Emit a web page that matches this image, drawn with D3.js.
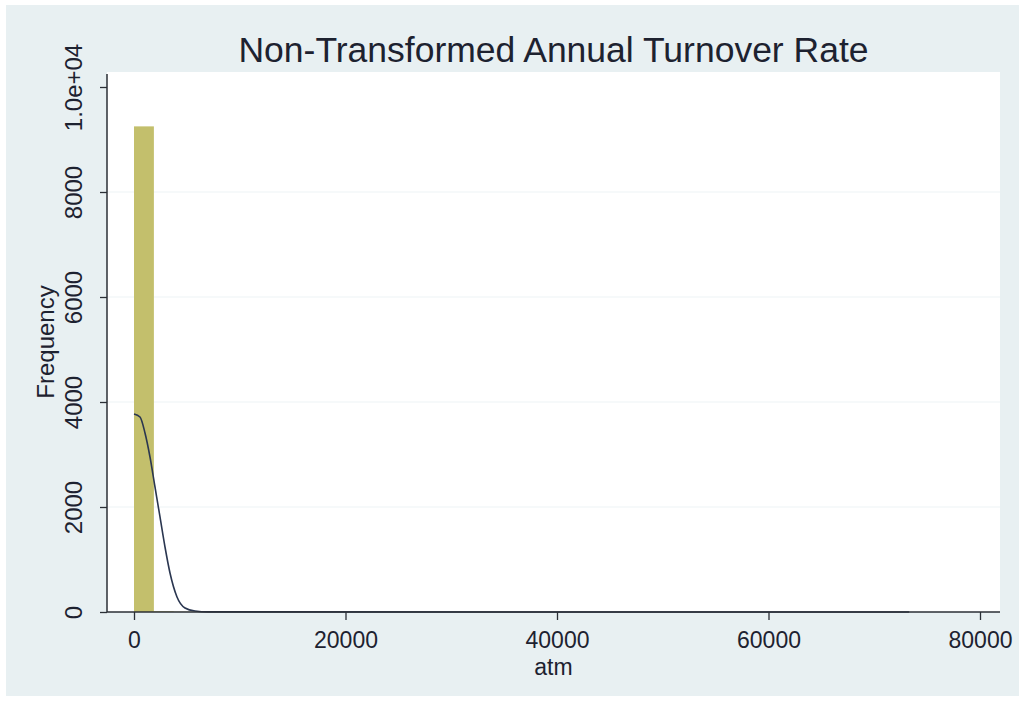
<!DOCTYPE html>
<html>
<head>
<meta charset="utf-8">
<script src="https://cdn.jsdelivr.net/npm/d3@7"></script>
<style>
  html, body { margin: 0; padding: 0; background: #ffffff; }
  svg { display: block; }
  text { font-family: "Liberation Sans", Arial, sans-serif; fill: #1d2230; }
</style>
</head>
<body>
<svg id="chart" width="1019" height="704"></svg>
<script>
// Histogram of atm: bin width and frequency per bin (starting at 0)
const binWidth = 1880;
const binCounts = [9250, 14, 6, 3, 2, 2, 1, 1, 1, 0, 1, 0, 0, 1, 0, 0, 0, 0, 0, 0,
                   0, 0, 1, 0, 0, 0, 0, 0, 0, 0, 0, 0, 0, 0, 0, 0, 0, 0, 1];

// Normal density overlay, scaled to frequency
const normalX = [0, 567, 1040, 1513, 1986, 2459, 2931, 3404, 4066, 4823, 5768, 7000, 73300];
const normalY = [3771, 3714, 3410, 2952, 2381, 1810, 1238, 743, 286, 76, 19, 3, 0];

// Axis ticks and labels
const xTicks = [0, 20000, 40000, 60000, 80000];
const xTickLabels = ["0", "20000", "40000", "60000", "80000"];
const yTicks = [0, 2000, 4000, 6000, 8000, 10000];
const yTickLabels = ["0", "2000", "4000", "6000", "8000", "1.0e+04"];

const titleText = "Non-Transformed Annual Turnover Rate";
const xTitle = "atm";
const yTitle = "Frequency";

const svg = d3.select("#chart");

// Graph region background
svg.append("rect")
  .attr("x", 6).attr("y", 5).attr("width", 1013).attr("height", 691)
  .attr("fill", "#e8f0f2");

// Plot region
const plot = { left: 107, right: 1000, top: 72, bottom: 612 };
svg.append("rect")
  .attr("x", plot.left).attr("y", plot.top)
  .attr("width", plot.right - plot.left).attr("height", plot.bottom - plot.top)
  .attr("fill", "#ffffff");

const x = d3.scaleLinear().domain([0, 80000]).range([134, 980]);
const y = d3.scaleLinear().domain([0, 10000]).range([612, 87]);

// Horizontal gridlines
svg.append("g")
  .selectAll("line")
  .data(yTicks.filter(d => d > 0 && d < 10000))
  .join("line")
  .attr("x1", plot.left).attr("x2", plot.right)
  .attr("y1", d => y(d)).attr("y2", d => y(d))
  .attr("stroke", "#eef3f5").attr("stroke-width", 1.2);

// Histogram bars
const bins = binCounts.map((c, i) => ({ x0: i * binWidth, x1: (i + 1) * binWidth, n: c }));
svg.append("g")
  .selectAll("rect")
  .data(bins.filter(b => b.n > 0))
  .join("rect")
  .attr("x", d => x(d.x0))
  .attr("width", d => x(d.x1) - x(d.x0))
  .attr("y", d => y(d.n))
  .attr("height", d => y(0) - y(d.n))
  .attr("fill", "#c3bf6c");

// Normal density curve
const pts = normalX.map((v, i) => [v, normalY[i]]);
svg.append("path")
  .datum(pts)
  .attr("d", d3.line().x(d => x(d[0])).y(d => y(d[1])).curve(d3.curveMonotoneX))
  .attr("fill", "none")
  .attr("stroke", "#2a3650")
  .attr("stroke-width", 1.6);

// Y axis
const yAxis = d3.axisLeft(y)
  .tickValues(yTicks)
  .tickFormat((d, i) => yTickLabels[i])
  .tickSize(7)
  .tickSizeOuter(0);
const gy = svg.append("g").attr("transform", `translate(${plot.left},0)`).call(yAxis);
gy.select(".domain").remove();
gy.append("line")
  .attr("x1", 0).attr("x2", 0).attr("y1", plot.top + 2).attr("y2", plot.bottom)
  .attr("stroke", "#2b2f36").attr("stroke-width", 1.5);
gy.selectAll(".tick line").attr("stroke", "#2b2f36").attr("stroke-width", 1.3);
gy.selectAll(".tick text")
  .attr("x", 0).attr("y", 0)
  .attr("transform", "translate(-25,0) rotate(-90)")
  .attr("text-anchor", "middle")
  .attr("dy", 0)
  .style("font-size", "24px")
  .style("font-family", "'Liberation Sans', Arial, sans-serif")
  .attr("fill", "#1d2230");

// X axis
const xAxis = d3.axisBottom(x)
  .tickValues(xTicks)
  .tickFormat((d, i) => xTickLabels[i])
  .tickSize(8)
  .tickSizeOuter(0);
const gx = svg.append("g").attr("transform", `translate(0,${plot.bottom})`).call(xAxis);
gx.select(".domain").remove();
gx.append("line")
  .attr("x1", plot.left).attr("x2", plot.right).attr("y1", 0).attr("y2", 0)
  .attr("stroke", "#2b2f36").attr("stroke-width", 1.5);
gx.selectAll(".tick line").attr("stroke", "#2b2f36").attr("stroke-width", 1.3);
gx.selectAll(".tick text")
  .attr("y", 36).attr("dy", 0)
  .style("font-size", "23px")
  .style("font-family", "'Liberation Sans', Arial, sans-serif")
  .attr("fill", "#1d2230");

// Titles
svg.append("text")
  .attr("x", (plot.left + plot.right) / 2).attr("y", 62)
  .attr("text-anchor", "middle")
  .style("font-size", "35.5px")
  .text(titleText);

svg.append("text")
  .attr("x", (plot.left + plot.right) / 2).attr("y", 675)
  .attr("text-anchor", "middle")
  .style("font-size", "23px")
  .text(xTitle);

svg.append("text")
  .attr("transform", `translate(54,${(plot.top + plot.bottom) / 2}) rotate(-90)`)
  .attr("text-anchor", "middle")
  .style("font-size", "24px")
  .text(yTitle);
</script>
</body>
</html>
